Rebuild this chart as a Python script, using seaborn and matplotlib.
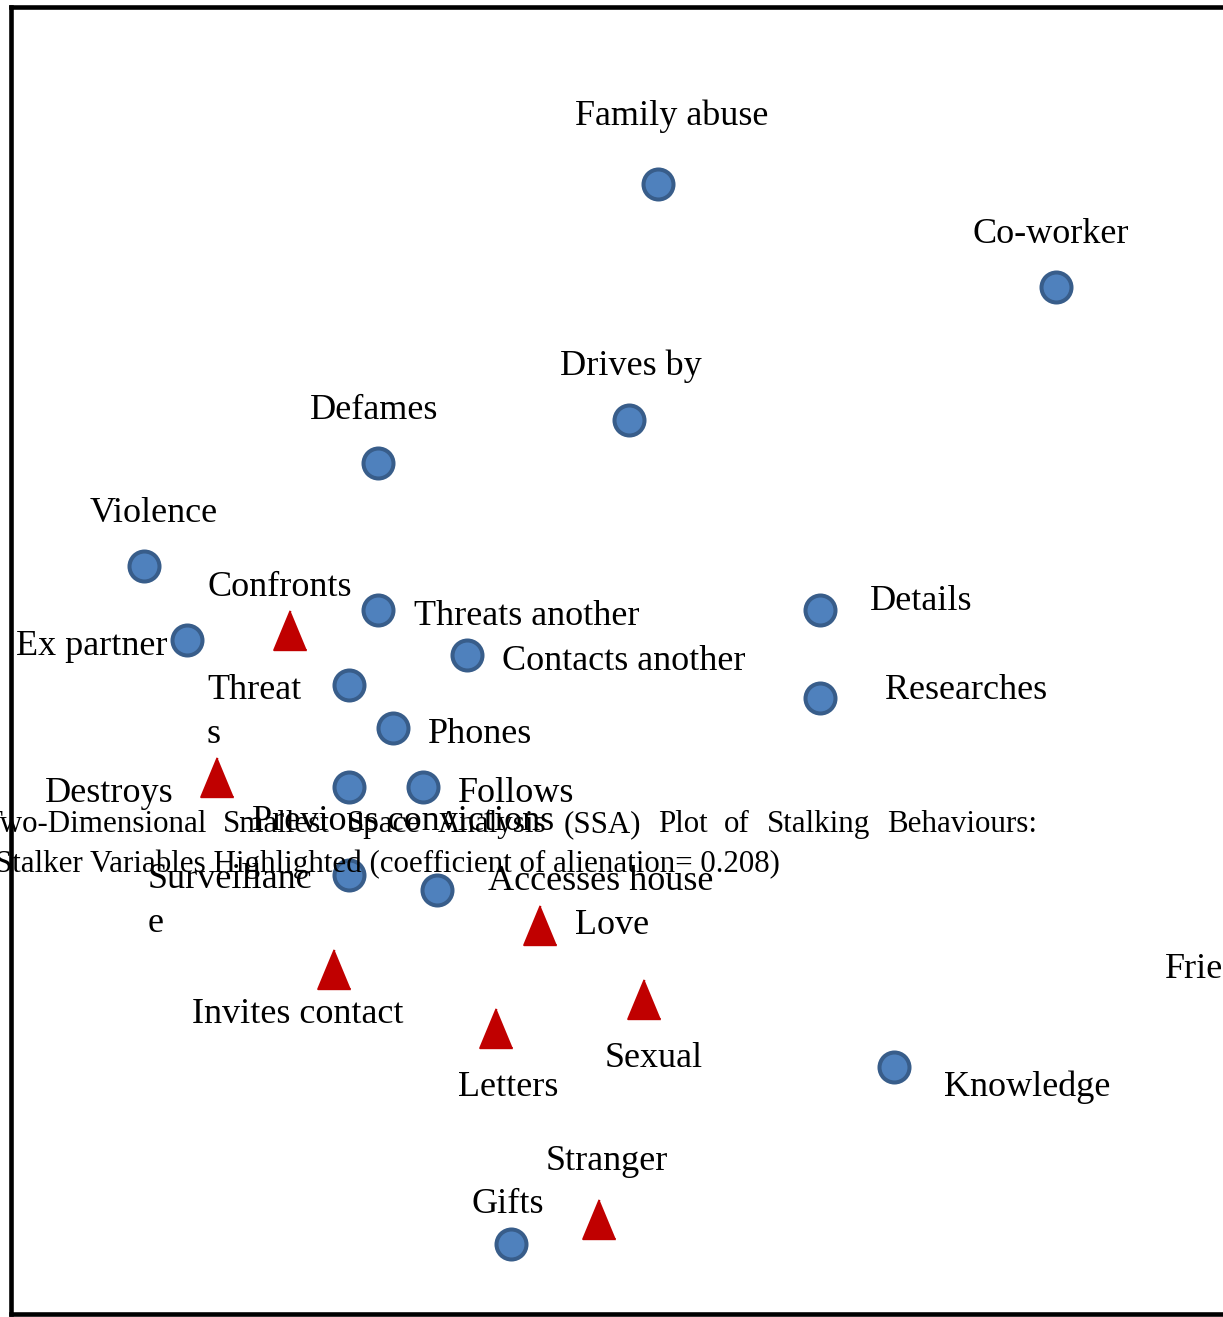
import matplotlib
matplotlib.use("Agg")
import matplotlib.pyplot as plt
import seaborn as sns
import pandas as pd

# ---- data (SSA plot coordinates; y grows downwards) ----
behaviour_labels = ["Family abuse", "Co-worker", "Drives by", "Defames", "Violence",
                    "Threats another", "Ex partner", "Contacts another", "Details",
                    "Researches", "Threats", "Phones", "Previous convictions",
                    "Follows", "Surveillance", "Accesses house", "Knowledge", "Gifts"]
behaviour_x = [658, 1056, 629, 378, 144, 378, 187, 467, 820, 820, 349, 393, 349, 423, 349, 437, 894, 511]
behaviour_y = [184, 287, 420, 463, 566, 610, 640, 655, 610, 698, 685, 728, 787, 787, 875, 890, 1067, 1244]

stalker_labels = ["Confronts", "Destroys", "Love", "Invites contact", "Letters", "Sexual", "Stranger"]
stalker_x = [290, 217, 540, 334, 496, 644, 599]
stalker_y = [630, 777, 925, 969, 1028, 999, 1219]

# labels whose marker lies outside the visible frame
extra_labels = ["Friend"]
extra_x = [1165]
extra_y = [978]

title_line1 = ["Two-Dimensional", "Smallest", "Space", "Analysis", "(SSA)", "Plot",
               "of", "Stalking", "Behaviours:"]
title_line2 = "Stalker Variables Highlighted (coefficient of alienation= 0.208)"

# ---- label layout (text anchor, offset from marker in pixels, displayed text) ----
label_layout = {
    "Family abuse": ("center", 14, -59, "Family abuse"),
    "Co-worker": ("center", -5, -44, "Co-worker"),
    "Drives by": ("center", 2, -45, "Drives by"),
    "Defames": ("center", -4, -44, "Defames"),
    "Violence": ("center", 10, -44, "Violence"),
    "Threats another": ("left", 36, 15, "Threats another"),
    "Ex partner": ("right", -19, 15, "Ex partner"),
    "Contacts another": ("left", 35, 15, "Contacts another"),
    "Details": ("left", 50, 0, "Details"),
    "Researches": ("left", 65, 1, "Researches"),
    "Threats": ("left", -142, 58, "Threat\ns"),
    "Phones": ("left", 35, 15, "Phones"),
    "Previous convictions": ("left", -97, 43, "Previous convictions"),
    "Follows": ("left", 35, 15, "Follows"),
    "Surveillance": ("left", -201, 57, "Surveillanc\ne"),
    "Accesses house": ("left", 51, 0, "Accesses house"),
    "Knowledge": ("left", 50, 29, "Knowledge"),
    "Gifts": ("center", -3, -31, "Gifts"),
    "Confronts": ("center", -10, -34, "Confronts"),
    "Destroys": ("right", -43, 25, "Destroys"),
    "Love": ("left", 35, 9, "Love"),
    "Invites contact": ("center", -36, 54, "Invites contact"),
    "Letters": ("center", 12, 68, "Letters"),
    "Sexual": ("center", 10, 68, "Sexual"),
    "Stranger": ("center", 8, -49, "Stranger"),
    "Friend": ("left", 0, 0, "Friend"),
}

sns.set_theme(style="white")
plt.rcParams["font.family"] = ["Liberation Serif", "DejaVu Serif"]

W, H = 1223, 1317
fig = plt.figure(figsize=(W / 100, H / 100), dpi=100)
fig.patch.set_facecolor("white")
left_px, right_px, top_px, bot_px = 11, 1240, 7, 1314
ax = fig.add_axes([left_px / W, (H - bot_px) / H, (right_px - left_px) / W, (bot_px - top_px) / H])
ax.set_xlim(left_px, right_px)
ax.set_ylim(bot_px, top_px)
ax.set_facecolor("white")
for sp in ax.spines.values():
    sp.set_visible(True)
    sp.set_color("black")
    sp.set_linewidth(3.3)
ax.set_xticks([])
ax.set_yticks([])

beh = pd.DataFrame({"label": behaviour_labels, "x": behaviour_x, "y": behaviour_y})
stk = pd.DataFrame({"label": stalker_labels, "x": stalker_x, "y": stalker_y})

tri = [(0, 1), (-0.83, -1), (0.83, -1)]
sns.scatterplot(data=beh, x="x", y="y", ax=ax, marker="o", s=466,
                color="#4f81bd", edgecolor="#385d8a", linewidth=2.9, zorder=3, legend=False)
sns.scatterplot(data=stk, x="x", y="y", ax=ax, marker=tri, s=800,
                color="#c00000", edgecolor="#c00000", linewidth=1.5, zorder=3, legend=False)
for coll in ax.collections[1:]:
    coll.set_joinstyle("round")
ax.set_xlabel("")
ax.set_ylabel("")

LABEL_FS = 26
for lab, x, y in list(zip(behaviour_labels, behaviour_x, behaviour_y)) + \
        list(zip(stalker_labels, stalker_x, stalker_y)):
    ha, dx, dy, txt = label_layout[lab]
    ax.text(x + dx, y + dy, txt, ha=ha, va="baseline", fontsize=LABEL_FS,
            color="black", linespacing=1.43, zorder=4)
for lab, x, y in zip(extra_labels, extra_x, extra_y):
    ha, dx, dy, txt = label_layout[lab]
    ax.text(x + dx, y + dy, txt, ha=ha, va="baseline", fontsize=LABEL_FS,
            color="black", zorder=4, clip_on=False)

# ---- justified title block overlapping the plot ----
TITLE_FS = 22.3
t1_left, t1_right, t1_base = -17, 1037, 832
renderer = fig.canvas.get_renderer()
words = []
for w in title_line1:
    t = ax.text(0, t1_base, w, ha="left", va="baseline", fontsize=TITLE_FS, color="black",
                clip_on=False, zorder=5)
    words.append(t)
widths = [t.get_window_extent(renderer).width for t in words]
gap = (t1_right - t1_left - sum(widths)) / (len(words) - 1)
xpos = t1_left
for t, wd in zip(words, widths):
    t.set_x(xpos)
    xpos += wd + gap
ax.text(780, 872, title_line2, ha="right", va="baseline", fontsize=TITLE_FS,
        color="black", clip_on=False, zorder=5)

fig.savefig("out.png", dpi=100, facecolor="white")
